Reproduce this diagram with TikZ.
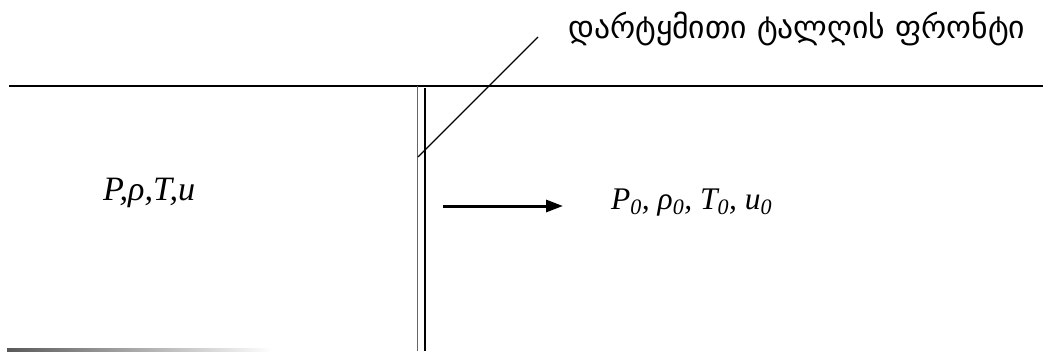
\documentclass[tikz,border=0pt]{standalone}
\usepackage{fontspec}
\setmainfont{Liberation Serif}
\newfontfamily\geofont{DejaVu Sans}
\usetikzlibrary{arrows.meta}
\tikzset{
  lbl/.style={inner sep=0pt, anchor=base west, font=\fontsize{30}{34}\selectfont\itshape},
  geolbl/.style={inner sep=0pt, anchor=base west, font=\fontsize{28}{32}\selectfont\geofont},
  wall/.style={line width=1.7pt, black},
  frontA/.style={line width=1.3pt, black!60},
  frontB/.style={line width=1.6pt, black},
  pointer/.style={line width=1.2pt, black},
  flow/.style={line width=3pt, -{Triangle[length=17pt,width=12pt]}}
}
\begin{document}
\begin{tikzpicture}[x=1pt,y=-1pt]
\useasboundingbox (0,0) rectangle (1044,351);
% top line
\coordinate (tl) at (9,86);
\coordinate (tr) at (1043,86);
\draw[wall] (tl) -- (tr);
% shock front double line
\coordinate (fa1) at (417.5,86);
\coordinate (fa2) at (417.5,351);
\coordinate (fb1) at (425,88);
\coordinate (fb2) at (425,351);
\draw[frontA] (fa1) -- (fa2);
\draw[frontB] (fb1) -- (fb2);
% label and pointer
\node[geolbl] (front) at (568,38) {\resizebox{457pt}{!}{დარტყმითი ტალღის ფრონტი}};
\coordinate (p1) at (418,157);
\coordinate (p2) at (538,37);
\draw[pointer] (p1) -- (p2);
% states
\node[lbl] (left) at (103,200) {\resizebox{92pt}{!}{P,ρ,T,u}};
\node[lbl] (right) at (611,209) {\resizebox{161pt}{!}{P\textsubscript{0}, ρ\textsubscript{0}, T\textsubscript{0}, u\textsubscript{0}}};
% arrow
\coordinate (a1) at (443,206);
\coordinate (a2) at (563,206);
\draw[flow] (a1) -- (a2);
% bottom faded line
\shade[left color=black!65, right color=white] (7,348.5) rectangle (272,351);
\end{tikzpicture}
\end{document}
